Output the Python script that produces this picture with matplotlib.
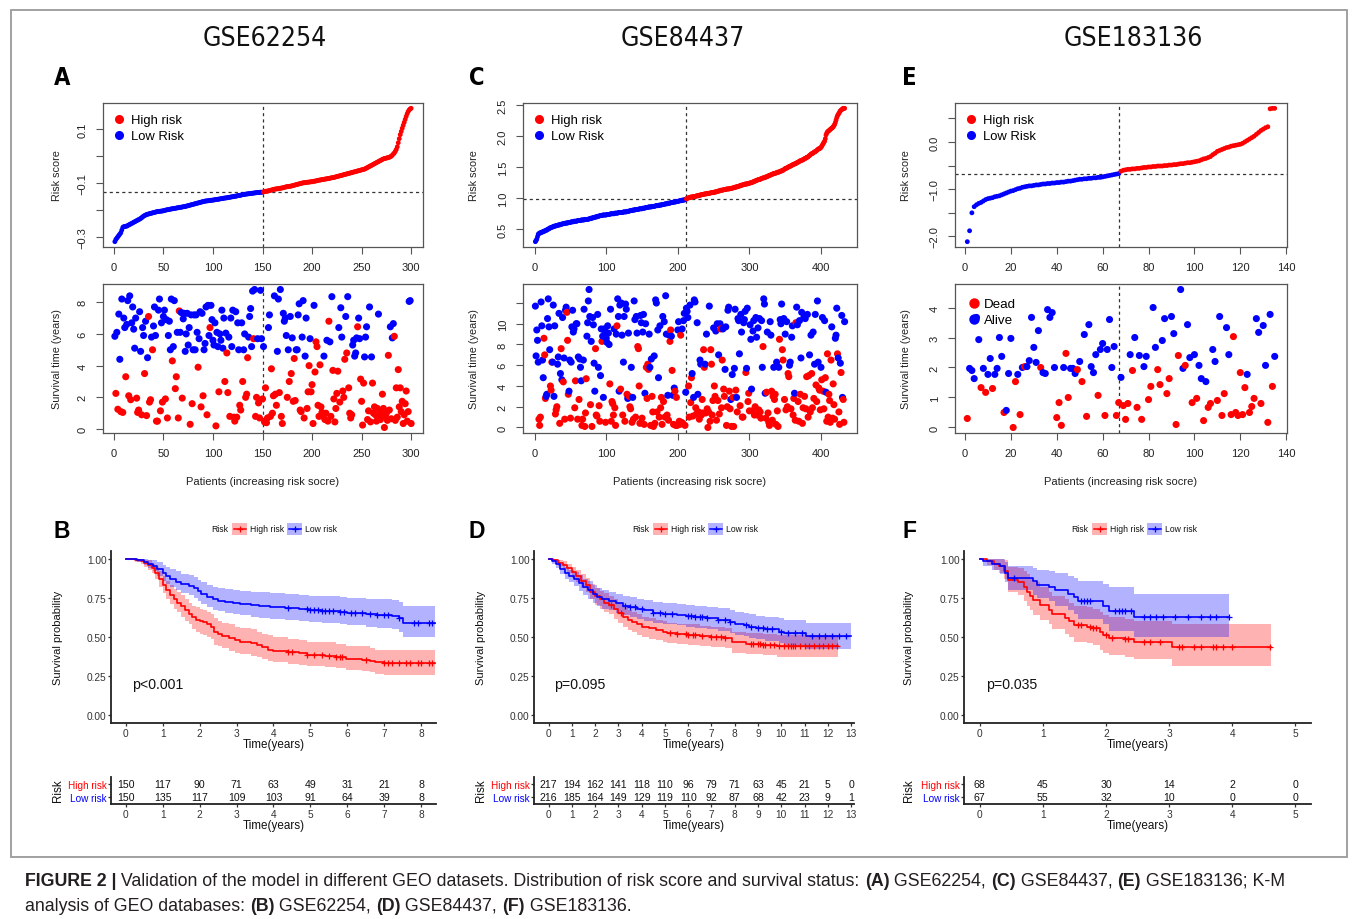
import numpy as np
import matplotlib
matplotlib.use('Agg')
import matplotlib.pyplot as plt
from matplotlib.patches import Rectangle
from matplotlib.lines import Line2D
from matplotlib import font_manager
from matplotlib.font_manager import FontProperties

W, H = 1357, 920
SANS = 'Liberation Sans'
plt.rcParams['font.family'] = [SANS, 'DejaVu Sans']


def condensed_font(bold):
    # pick an installed narrow/condensed face if there is one
    best = None
    for f in font_manager.fontManager.ttflist:
        fn = f.fname.lower()
        if ('narrow' in fn or 'condensed' in fn) and 'semi' not in fn and 'oblique' not in fn and 'italic' not in fn:
            is_bold = 'bold' in fn
            if is_bold == bold:
                if best is None or 'liberation' in fn:
                    best = f.fname
    if best:
        return FontProperties(fname=best)
    return FontProperties(family=SANS, weight='bold' if bold else 'normal')


RED, BLUE = '#FF0000', '#0000FF'

# ---------------- risk scores (sorted, one per patient) ----------------
risk_a = [
    -0.318, -0.310, -0.305, -0.300, -0.295, -0.290, -0.285, -0.275, -0.265, -0.262,
    -0.262, -0.261, -0.260, -0.258, -0.256, -0.254, -0.252, -0.250, -0.248, -0.246,
    -0.244, -0.242, -0.240, -0.238, -0.236, -0.234, -0.232, -0.229, -0.226, -0.223,
    -0.221, -0.219, -0.217, -0.216, -0.215, -0.214, -0.213, -0.212, -0.211, -0.210,
    -0.209, -0.208, -0.207, -0.206, -0.206, -0.205, -0.205, -0.204, -0.204, -0.203,
    -0.202, -0.201, -0.200, -0.199, -0.199, -0.198, -0.197, -0.196, -0.196, -0.195,
    -0.194, -0.194, -0.193, -0.192, -0.192, -0.191, -0.190, -0.190, -0.189, -0.188,
    -0.188, -0.187, -0.186, -0.185, -0.184, -0.183, -0.182, -0.181, -0.180, -0.179,
    -0.178, -0.177, -0.176, -0.175, -0.174, -0.173, -0.172, -0.171, -0.170, -0.169,
    -0.168, -0.167, -0.167, -0.166, -0.166, -0.165, -0.165, -0.164, -0.164, -0.163,
    -0.163, -0.162, -0.161, -0.161, -0.160, -0.160, -0.159, -0.158, -0.158, -0.157,
    -0.156, -0.156, -0.155, -0.155, -0.154, -0.153, -0.153, -0.152, -0.151, -0.151,
    -0.150, -0.149, -0.149, -0.148, -0.147, -0.146, -0.146, -0.145, -0.144, -0.143,
    -0.143, -0.142, -0.141, -0.141, -0.140, -0.140, -0.139, -0.139, -0.138, -0.138,
    -0.137, -0.137, -0.136, -0.136, -0.135, -0.135, -0.135, -0.134, -0.134, -0.134,
    -0.133, -0.132, -0.131, -0.130, -0.130, -0.129, -0.128, -0.127, -0.126, -0.125,
    -0.124, -0.123, -0.122, -0.122, -0.121, -0.121, -0.120, -0.119, -0.119, -0.118,
    -0.117, -0.116, -0.115, -0.114, -0.113, -0.113, -0.112, -0.112, -0.111, -0.110,
    -0.109, -0.108, -0.107, -0.106, -0.105, -0.104, -0.103, -0.102, -0.101, -0.100,
    -0.099, -0.099, -0.098, -0.098, -0.097, -0.097, -0.096, -0.096, -0.095, -0.095,
    -0.094, -0.093, -0.093, -0.092, -0.091, -0.090, -0.089, -0.089, -0.088, -0.087,
    -0.087, -0.086, -0.085, -0.085, -0.084, -0.083, -0.083, -0.082, -0.081, -0.080,
    -0.080, -0.079, -0.078, -0.077, -0.076, -0.075, -0.074, -0.073, -0.072, -0.071,
    -0.070, -0.069, -0.068, -0.067, -0.066, -0.065, -0.064, -0.063, -0.062, -0.061,
    -0.060, -0.059, -0.058, -0.057, -0.056, -0.055, -0.054, -0.053, -0.052, -0.051,
    -0.050, -0.049, -0.048, -0.046, -0.044, -0.042, -0.040, -0.038, -0.036, -0.034,
    -0.032, -0.030, -0.028, -0.026, -0.024, -0.022, -0.020, -0.018, -0.016, -0.014,
    -0.012, -0.010, -0.009, -0.008, -0.007, -0.006, -0.005, -0.004, -0.002, 0.000,
    0.004, 0.008, 0.012, 0.018, 0.025, 0.035, 0.050, 0.065, 0.080, 0.092,
    0.104, 0.115, 0.126, 0.137, 0.148, 0.158, 0.166, 0.172, 0.176, 0.178,
]
risk_c = [
    0.30, 0.32, 0.34, 0.38, 0.42, 0.43, 0.44, 0.44, 0.45, 0.45,
    0.46, 0.46, 0.47, 0.47, 0.48, 0.48, 0.49, 0.50, 0.50, 0.51,
    0.52, 0.52, 0.53, 0.53, 0.54, 0.54, 0.55, 0.55, 0.55, 0.56,
    0.56, 0.56, 0.57, 0.57, 0.57, 0.58, 0.58, 0.58, 0.59, 0.59,
    0.59, 0.59, 0.60, 0.60, 0.60, 0.60, 0.61, 0.61, 0.61, 0.61,
    0.62, 0.62, 0.62, 0.62, 0.63, 0.63, 0.63, 0.63, 0.63, 0.64,
    0.64, 0.64, 0.64, 0.64, 0.65, 0.65, 0.65, 0.65, 0.65, 0.66,
    0.66, 0.66, 0.66, 0.66, 0.66, 0.67, 0.67, 0.67, 0.68, 0.68,
    0.68, 0.69, 0.69, 0.69, 0.70, 0.70, 0.70, 0.71, 0.71, 0.71,
    0.72, 0.72, 0.72, 0.72, 0.73, 0.73, 0.73, 0.73, 0.73, 0.73,
    0.74, 0.74, 0.74, 0.74, 0.74, 0.75, 0.75, 0.75, 0.75, 0.75,
    0.75, 0.76, 0.76, 0.76, 0.76, 0.76, 0.77, 0.77, 0.77, 0.77,
    0.77, 0.77, 0.77, 0.78, 0.78, 0.78, 0.78, 0.78, 0.79, 0.79,
    0.79, 0.79, 0.80, 0.80, 0.80, 0.80, 0.81, 0.81, 0.81, 0.81,
    0.82, 0.82, 0.82, 0.82, 0.82, 0.83, 0.83, 0.83, 0.83, 0.83,
    0.84, 0.84, 0.84, 0.84, 0.85, 0.85, 0.85, 0.85, 0.86, 0.86,
    0.86, 0.86, 0.86, 0.87, 0.87, 0.87, 0.87, 0.87, 0.88, 0.88,
    0.88, 0.88, 0.88, 0.89, 0.89, 0.89, 0.89, 0.90, 0.90, 0.90,
    0.90, 0.91, 0.91, 0.91, 0.91, 0.92, 0.92, 0.92, 0.92, 0.93,
    0.93, 0.93, 0.93, 0.94, 0.94, 0.94, 0.94, 0.95, 0.95, 0.95,
    0.95, 0.96, 0.96, 0.96, 0.96, 0.97, 0.97, 0.97, 0.97, 0.98,
    0.98, 0.99, 1.00, 1.00, 1.01, 1.01, 1.01, 1.02, 1.02, 1.02,
    1.02, 1.03, 1.03, 1.03, 1.03, 1.04, 1.04, 1.04, 1.04, 1.05,
    1.05, 1.05, 1.06, 1.06, 1.06, 1.06, 1.07, 1.07, 1.07, 1.07,
    1.08, 1.08, 1.08, 1.08, 1.08, 1.09, 1.09, 1.09, 1.09, 1.09,
    1.10, 1.10, 1.10, 1.11, 1.11, 1.11, 1.12, 1.12, 1.12, 1.13,
    1.13, 1.13, 1.13, 1.14, 1.14, 1.14, 1.14, 1.15, 1.15, 1.15,
    1.15, 1.15, 1.16, 1.16, 1.16, 1.16, 1.17, 1.17, 1.17, 1.18,
    1.18, 1.18, 1.19, 1.19, 1.19, 1.20, 1.20, 1.21, 1.21, 1.21,
    1.22, 1.22, 1.22, 1.23, 1.23, 1.23, 1.23, 1.24, 1.24, 1.24,
    1.25, 1.25, 1.25, 1.26, 1.26, 1.27, 1.27, 1.28, 1.28, 1.29,
    1.29, 1.30, 1.30, 1.30, 1.31, 1.31, 1.32, 1.32, 1.33, 1.33,
    1.33, 1.34, 1.34, 1.35, 1.35, 1.36, 1.36, 1.37, 1.37, 1.38,
    1.38, 1.39, 1.39, 1.40, 1.40, 1.40, 1.41, 1.41, 1.42, 1.42,
    1.42, 1.43, 1.43, 1.44, 1.44, 1.45, 1.45, 1.46, 1.47, 1.48,
    1.48, 1.49, 1.49, 1.50, 1.51, 1.51, 1.52, 1.52, 1.53, 1.54,
    1.54, 1.55, 1.55, 1.56, 1.56, 1.57, 1.58, 1.58, 1.59, 1.60,
    1.60, 1.61, 1.61, 1.62, 1.62, 1.63, 1.64, 1.64, 1.65, 1.66,
    1.66, 1.67, 1.68, 1.69, 1.70, 1.71, 1.72, 1.72, 1.73, 1.74,
    1.75, 1.75, 1.76, 1.77, 1.78, 1.79, 1.80, 1.80, 1.81, 1.82,
    1.84, 1.86, 1.88, 1.90, 1.92, 1.96, 2.02, 2.05, 2.07, 2.08,
    2.09, 2.10, 2.11, 2.12, 2.13, 2.14, 2.15, 2.17, 2.19, 2.22,
    2.26, 2.30, 2.33, 2.35, 2.37, 2.39, 2.41, 2.42, 2.43, 2.44,
    2.45, 2.45, 2.45,
]
risk_e = [
    -2.11, -1.88, -1.50, -1.37, -1.33, -1.30, -1.28, -1.25, -1.22, -1.20,
    -1.19, -1.18, -1.16, -1.15, -1.14, -1.12, -1.10, -1.08, -1.06, -1.04,
    -1.03, -1.01, -0.99, -0.98, -0.96, -0.95, -0.94, -0.93, -0.93, -0.92,
    -0.91, -0.91, -0.90, -0.89, -0.89, -0.88, -0.88, -0.87, -0.87, -0.86,
    -0.86, -0.85, -0.85, -0.84, -0.83, -0.83, -0.82, -0.81, -0.80, -0.79,
    -0.79, -0.78, -0.78, -0.77, -0.77, -0.76, -0.76, -0.75, -0.75, -0.74,
    -0.73, -0.72, -0.71, -0.70, -0.69, -0.68, -0.67,
    -0.62, -0.60, -0.59,
    -0.58, -0.58, -0.57, -0.57, -0.56, -0.56, -0.55, -0.54, -0.54, -0.53,
    -0.53, -0.52, -0.52, -0.51, -0.51, -0.51, -0.50, -0.50, -0.49, -0.49,
    -0.48, -0.48, -0.47, -0.46, -0.46, -0.45, -0.44, -0.44, -0.43, -0.42,
    -0.41, -0.40, -0.38, -0.36, -0.35, -0.33, -0.31, -0.27, -0.24, -0.20,
    -0.18, -0.16, -0.14, -0.12, -0.11, -0.09, -0.08, -0.07, -0.06, -0.05,
    -0.03, 0.00, 0.03, 0.06, 0.09, 0.12, 0.16, 0.20, 0.24, 0.27,
    0.30, 0.32, 0.70, 0.71, 0.71,
]
low_n_a, low_n_c, low_n_e = 150, 211, 67

# ---------------- survival time per patient: years + d(ead)/a(live) ----------------
surv_a = """
5.85a 2.25d 6.1a 1.25d 7.25a 4.4a 1.1d 8.2a 1.05d 7.0a
6.4a 3.3d 6.6a 8.1a 2.1d 8.4a 1.85d 6.7a 7.7a 6.3a
5.1a 7.0a 1.95d 1.05d 1.2d 7.4a 4.9a 0.9d 6.4a 5.9a
3.5d 6.8a 0.85d 4.5a 7.1d 1.7d 1.85d 5.8a 5.0d 6.5a
7.7a 5.9a 0.5d 0.5d 7.5a 8.2a 1.15d 6.7a 1.7d 7.1a
7.5a 1.9d 6.9a 0.7d 5.9a 6.8a 5.0a 8.2a 4.3d 5.2a
8.1a 2.55d 3.3d 6.1a 0.7d 7.45d 6.1a 7.35a 1.95d 6.95a
7.3a 4.9a 6.0a 7.3a 5.3a 6.4a 0.3d 7.2a 1.6d 5.0a
7.2a 5.0a 7.2a 6.1a 3.9d 5.7a 7.4a 1.4d 7.3a 2.1d
5.0a 5.4a 7.7a 0.9d 7.8a 5.9a 6.4d 7.8a 6.9a 5.6a
5.3a 6.7a 0.2d 6.1a 5.2a 2.35d 6.0a 5.6a 7.5a 5.1a
7.0a 3.0d 6.05a 4.8d 2.3d 5.8a 0.8d 7.0a 5.2a 7.5a
0.75d 0.5d 7.4a 0.75d 6.7a 5.0a 1.5d 1.2d 6.7a 3.0d
5.0a 6.0a 2.0d 2.2d 4.5d 5.8a 7.1a 7.6a 5.2a 8.7a
5.7d 8.8a 0.8d 2.0d 5.7a 1.65d 0.7d 8.75a 5.7a 1.9d
5.2a 0.45d 2.6d 0.4d 0.7d 6.4a 7.2a 0.8d 3.8d 1.0d
2.1d 8.4a 2.2d 1.5d 4.9a 8.2a 2.3d 8.8a 0.8d 0.35d
7.3a 6.8a 7.0a 5.9a 2.0d 5.0a 3.0d 7.1a 3.5d 5.75a
1.75d 4.45d 1.8d 5.0a 5.0a 7.2a 7.9a 1.2d 1.1d 5.8a
8.1a 0.7d 4.6a 7.0a 1.3d 2.35d 4.0d 5.7a 2.35d 2.8d
0.35d 7.8a 3.6d 5.5d 5.2d 1.5d 0.8d 4.05d 1.4d 1.05d
0.8d 4.6a 0.6d 1.0d 5.6a 0.5d 6.8d 5.5a 0.8d 8.35a
3.7d 1.9d 0.45d 1.3d 2.25d 3.65d 6.4a 1.7d 7.65a 5.8a
2.4d 2.0d 4.4d 7.1a 4.8d 8.35a 2.6d 1.0d 0.7d 0.9d
5.3a 5.6a 4.6a 4.8a 5.75a 6.45d 7.0a 5.7a 3.15d 1.75d
0.25d 2.9d 4.55a 5.8a 6.45a 0.6d 1.15d 7.7a 0.45d 4.55a
2.9d 1.0d 1.4d 0.9d 0.5d 1.3d 7.25a 0.7d 0.6d 1.05d
2.2d 1.3d 0.1d 0.8d 1.0d 0.55d 4.65d 1.2d 6.45a 0.65d
5.75a 6.65a 5.85d 0.55d 2.6d 0.75d 3.75d 1.4d 2.6d 1.1d
1.75d 0.35d 0.9d 1.6d 2.4d 0.5d 1.1d 8.05a 8.1a 0.35d
"""
surv_c = """
11.7a 6.9a 9.4a 8.4a 6.3a 0.8d 0.2d 1.0d 12.1a 9.8a 6.5a 4.8a 8.6d 7.0d 2.8d 3.0a 3.2a 10.5a 12.4a 9.7a
7.5a 4.0d 3.6d 6.3d 6.3a 11.8a 3.0a 9.8a 1.3d 1.7d 2.0d 6.1a 6.8a 11.0a 0.4d 5.2a 7.6d 4.6a 10.6a 4.4d
6.7a 0.8d 11.3a 11.6a 11.1d 8.4d 3.2d 3.5a 6.5a 0.9d 6.3a 9.7a 11.3a 9.2a 9.5a 1.9d 4.5d 10.0a 10.0a 0.8d
6.8a 2.7d 6.6a 5.8a 4.5a 0.2d 0.8d 6.5a 11.4a 0.1d 1.4d 4.7d 8.8a 10.1a 12.2a 13.3a 10.7a 2.2d 8.3a 0.1d
10.6a 9.9a 6.2a 3.5a 7.6d 1.2d 1.1d 10.9a 5.8a 2.1d 0.6d 5.0a 9.5a 8.3d 8.8a 2.9a 9.5a 9.3a 0.5d 8.6a
8.2a 9.8a 9.1a 8.0a 4.2d 11.4a 0.6d 2.5d 2.3d 1.2d 9.5a 1.9d 0.2d 9.0a 9.8d 12.4a 10.7a 3.5a 11.8a 3.7d
12.0a 8.9a 1.2d 6.3a 10.7a 0.6d 11.9a 11.4a 3.2d 2.8a 9.1a 3.0d 2.0d 1.8d 5.8a 0.5d 2.9a 0.8d 12.2a 10.4a
1.0d 10.7a 9.1a 7.8d 7.6d 4.0d 0.4d 10.8a 10.1a 0.9d 9.2a 10.9a 0.3d 3.3a 10.0a 5.8d 2.8d 6.1d 5.6d 9.0a
5.8a 0.2d 6.6a 3.0d 1.5d 0.1d 6.9a 0.4d 12.3a 12.0a 1.5d 9.4a 4.8a 1.0d 9.8a 1.9d 2.9d 0.3d 10.7a 2.5d
10.2a 1.0d 12.7a 9.0a 1.2d 3.1a 0.7d 8.9a 8.3d 9.4d 8.8a 5.5d 3.1a 0.3d 3.8a 3.5d 0.2d 2.9d 0.2d 9.4a
10.2a 0.6d 0.3d 8.9d 0.5d 9.5a 0.4d 10.3a 11.0a 0.2d 3.4a
11.5a 11.2a 10.6a 4.0d 1.0d 11.8a 2.4d 4.8d 5.2a 1.1d 2.9a 12.3a 12.1a 1.9d 1.3d 10.1a 3.2a 1.5d 0.8d
6.5a 6.1a 1.2d 2.7d 1.4d 7.5d 5.8d 6.1a 1.4d 9.0a 1.8d 0.0d 1.5d 11.7a 0.6d 7.5d 6.1d 1.2d 2.6d 9.6a
4.0d 3.0d 9.3a 0.7d 10.0a 2.6d 7.0a 1.3d 10.0a 9.5d 1.9d 6.5d 9.5a 3.7d 3.0d 5.6a 9.7a 0.2d 2.0d 11.3a
11.6a 3.5d 1.8d 2.7a 0.1d 5.1a 2.9d 0.1d 5.7a 11.4a 3.6d 2.9a 1.5d 10.5a 10.3a 7.1a 2.1d 10.9a 9.2a 1.0d
1.0d 10.1a 10.4a 11.2a 5.3d 5.7a 11.5a 2.5d 3.3d 1.6d 9.9a 8.5a 3.7a 1.6d 9.3a 10.3a 1.2d 2.0d 10.6a 8.7a
1.2d 9.6a 1.7d 10.5a 1.5d 0.9d 10.3a 5.8a 7.8d 12.4a 11.9a 3.3a 0.9d 3.4d 9.2a 1.4d 0.5d 0.2d 10.2a 8.9a
3.5d 0.7d 3.0d 5.8a 2.7d 3.2d 0.3d 6.3a 1.6d 0.1d 5.8a 8.5d 10.4a 10.0a 11.9a 7.5d 6.5d 10.5a 2.7d 9.0a
1.7d 10.2a 2.0d 5.2d 4.9d 6.0a 6.3a 1.8d 8.7a 9.8a 1.2d 2.8d 3.3a 0.7d 10.1d 11.6a 9.9a 2.5d 0.6d 10.3a
3.2d 6.7a 11.1a 0.4d 1.9d 10.6a 3.0d 10.5a 1.8d 4.9d 10.9a 1.0d 5.0d 7.0a 1.5d 8.9a 5.2d 1.9d 9.2a 2.8d
6.1a 10.9a 4.1d 2.5d 12.2a 6.3a 3.8d 3.6d 1.7d 5.8a 4.6d 10.6a 3.5d 1.8d 10.3a 4.8d 3.4a 0.6d 7.1d 1.0d
3.2d 2.6d 0.5d 6.5d 9.7a 0.9d 4.2d 2.2d 0.8d 8.6a 8.9a 11.5a 7.1d 6.7a 1.5d 0.3d 6.2a 5.3d 10.8a 2.9a
2.7d 0.5d 10.2a
"""
surv_e = """
0.3d 1.97a 1.9a 1.63a 3.67a 2.93a 1.33d 1.97a 1.17d 1.77a
2.3a 1.3d 1.77a 1.97a 3.0a 2.37a 0.5d 0.57a 1.8a 2.97a
0.0d 1.53d 1.77a 0.43d 2.0a 2.03d 2.03a 2.23a 3.67a 2.67a
2.17a 3.23a 2.0d 1.83a 1.8a 3.93a 3.67a 3.83a 2.0a 0.33d
0.83d 0.07d 2.0a 2.47d 1.0d 1.97a 1.97a 1.8a 1.93d 2.2a
1.53d 3.1a 0.37d 3.43a 2.03a 1.83a 2.43a 1.07d 2.6a 2.8a
0.4d 2.6a 3.6a 2.0a 2.7a 0.4d 0.83d 1.67a 0.73d 0.27d
0.8d 2.43a 1.9d 3.0a 0.67d 2.4a 0.27d 2.03a 2.37a 0.93d
1.37d 4.0a 2.67a 1.93d 1.43d 2.9a 3.63a 1.13d 1.63d 3.7a
3.13a 0.1d 2.4d 4.6a 1.97a 2.07d 3.43a 2.33a 0.83d 2.43a
0.97d 2.07a 1.63a 0.23d 1.53a 0.67d 0.8d 2.6a 2.2a 0.9d
3.7a 0.4d 1.13d 3.33a 2.43a 0.43d 3.03d 0.5d 0.4d 1.83d
0.43d 1.33d 1.77a 0.5d 0.7d 0.97d 3.63a 3.17a 0.8d 3.4a
2.07a 0.17d 3.77a 1.37d 2.37a
"""

# ---------------- Kaplan-Meier curves: step times, survival, 95% CI ----------------
km_b_high_t = [0, 0.25, 0.4, 0.5, 0.6, 0.7, 0.8, 0.9, 1.0, 1.1, 1.2, 1.3, 1.4, 1.5, 1.6, 1.7, 1.8, 1.9, 2.0, 2.1,
               2.2, 2.3, 2.4, 2.5, 2.6, 2.8, 2.95, 3.1, 3.4, 3.55, 3.7, 3.85, 4.0, 4.4, 4.7, 4.9, 5.4, 5.7, 5.95, 6.4,
               6.6, 6.75, 7.0]
km_b_high_s = [1.0, 0.993, 0.987, 0.973, 0.96, 0.94, 0.91, 0.87, 0.83, 0.80, 0.77, 0.74, 0.72, 0.70, 0.67, 0.65, 0.63,
               0.61, 0.60, 0.593, 0.58, 0.567, 0.533, 0.52, 0.507, 0.493, 0.48, 0.467, 0.46, 0.447, 0.433, 0.42, 0.413,
               0.405, 0.395, 0.388, 0.38, 0.373, 0.36, 0.355, 0.348, 0.34, 0.335]
km_b_high_lo = [1.0, 0.98, 0.97, 0.95, 0.93, 0.91, 0.87, 0.82, 0.78, 0.74, 0.71, 0.68, 0.66, 0.63, 0.60, 0.58, 0.55, 0.53,
                0.52, 0.51, 0.50, 0.49, 0.45, 0.44, 0.43, 0.41, 0.40, 0.39, 0.38, 0.37, 0.36, 0.345, 0.34, 0.33, 0.32,
                0.315, 0.31, 0.30, 0.29, 0.285, 0.275, 0.265, 0.26]
km_b_high_hi = [1.0, 1.0, 1.0, 0.99, 0.99, 0.97, 0.95, 0.92, 0.89, 0.86, 0.83, 0.81, 0.79, 0.77, 0.74, 0.72, 0.70, 0.69,
                0.68, 0.67, 0.66, 0.65, 0.62, 0.60, 0.59, 0.58, 0.565, 0.555, 0.55, 0.535, 0.52, 0.51, 0.50, 0.49, 0.48,
                0.47, 0.465, 0.455, 0.445, 0.44, 0.43, 0.42, 0.42]
km_b_high_cens = [4.4, 4.5, 4.9, 5.1, 5.3, 5.5, 5.7, 5.8, 5.85, 6.5, 7.0, 7.1, 7.2, 7.4, 7.6, 7.7, 7.9, 8.0, 8.2, 8.3]
km_b_low_t = [0, 0.3, 0.5, 0.6, 0.75, 0.85, 1.0, 1.1, 1.2, 1.35, 1.5, 1.7, 1.85, 1.95, 2.05, 2.2, 2.35, 2.5, 2.7, 2.9,
              3.1, 3.4, 3.6, 3.9, 4.3, 4.7, 4.95, 5.3, 5.8, 6.0, 6.5, 6.8, 7.2, 7.4, 7.5]
km_b_low_s = [1.0, 0.993, 0.98, 0.967, 0.953, 0.933, 0.907, 0.893, 0.873, 0.853, 0.84, 0.827, 0.813, 0.793, 0.773, 0.753,
              0.74, 0.733, 0.727, 0.72, 0.713, 0.707, 0.70, 0.693, 0.687, 0.68, 0.673, 0.667, 0.66, 0.653, 0.647, 0.64,
              0.633, 0.62, 0.59]
km_b_low_lo = [1.0, 0.98, 0.96, 0.94, 0.92, 0.89, 0.86, 0.84, 0.82, 0.80, 0.78, 0.77, 0.75, 0.73, 0.71, 0.69, 0.675,
               0.665, 0.655, 0.645, 0.64, 0.63, 0.62, 0.615, 0.61, 0.60, 0.595, 0.59, 0.58, 0.575, 0.565, 0.56, 0.55,
               0.535, 0.50]
km_b_low_hi = [1.0, 1.0, 1.0, 0.995, 0.99, 0.98, 0.96, 0.95, 0.935, 0.92, 0.905, 0.895, 0.885, 0.865, 0.85, 0.835, 0.82,
               0.815, 0.81, 0.80, 0.795, 0.79, 0.785, 0.78, 0.775, 0.77, 0.765, 0.76, 0.755, 0.75, 0.745, 0.74, 0.735,
               0.725, 0.70]
km_b_low_cens = [4.4, 4.9, 5.0, 5.1, 5.2, 5.3, 5.4, 5.5, 5.6, 5.8, 5.9, 6.1, 6.2, 6.4, 6.6, 6.8, 7.0, 7.1, 7.4, 7.8, 7.9,
                 8.2, 8.3]
km_b_end = [8.38, 8.38]

km_d_high_t = [0, 0.2, 0.4, 0.6, 0.8, 1.0, 1.2, 1.4, 1.6, 1.8, 2.0, 2.2, 2.4, 2.6, 2.8, 3.0, 3.2, 3.4, 3.6, 3.8,
               4.0, 4.3, 4.6, 4.9, 5.1, 5.5, 6.0, 6.5, 7.0, 7.6, 7.9, 8.5, 9.2, 9.8, 10.2]
km_d_high_s = [1.0, 0.99, 0.975, 0.96, 0.94, 0.915, 0.89, 0.86, 0.83, 0.79, 0.76, 0.74, 0.72, 0.705, 0.68, 0.655, 0.63,
               0.61, 0.595, 0.58, 0.565, 0.555, 0.545, 0.535, 0.525, 0.52, 0.515, 0.505, 0.50, 0.495, 0.465, 0.458,
               0.452, 0.445, 0.44]
km_d_high_lo = [1.0, 0.98, 0.955, 0.935, 0.91, 0.88, 0.85, 0.815, 0.785, 0.74, 0.705, 0.68, 0.66, 0.645, 0.615, 0.59,
                0.565, 0.545, 0.53, 0.515, 0.50, 0.49, 0.48, 0.47, 0.46, 0.455, 0.45, 0.44, 0.435, 0.43, 0.40, 0.39,
                0.385, 0.375, 0.37]
km_d_high_hi = [1.0, 1.0, 0.995, 0.985, 0.97, 0.95, 0.93, 0.905, 0.875, 0.84, 0.815, 0.795, 0.78, 0.765, 0.745, 0.72,
                0.695, 0.675, 0.66, 0.645, 0.63, 0.62, 0.61, 0.60, 0.59, 0.585, 0.58, 0.57, 0.565, 0.56, 0.53, 0.525,
                0.52, 0.515, 0.51]
km_d_high_cens = [2.7, 3.1, 5.2, 5.5, 5.9, 6.0, 6.2, 6.3, 6.6, 7.0, 7.2, 7.4, 7.6, 8.7, 8.8, 9.0, 9.1, 9.2, 9.3, 9.5,
                  9.7, 9.9, 10.1, 10.3, 10.4, 10.5, 10.6, 10.8, 11.0, 11.2, 11.4, 11.6, 11.8, 12.0, 12.2, 12.4]
km_d_low_t = [0, 0.15, 0.3, 0.5, 0.7, 0.9, 1.1, 1.3, 1.5, 1.7, 1.9, 2.1, 2.3, 2.6, 2.9, 3.2, 3.5, 3.8, 4.1, 4.5,
              4.9, 5.5, 5.9, 6.3, 6.8, 7.3, 7.8, 8.0, 8.4, 8.6, 8.9, 9.3, 9.9, 10.1, 11.05]
km_d_low_s = [1.0, 0.985, 0.965, 0.935, 0.91, 0.89, 0.87, 0.845, 0.82, 0.80, 0.775, 0.755, 0.74, 0.73, 0.715, 0.70, 0.69,
              0.68, 0.67, 0.655, 0.645, 0.64, 0.632, 0.625, 0.62, 0.61, 0.595, 0.585, 0.575, 0.565, 0.555, 0.548, 0.535,
              0.525, 0.505]
km_d_low_lo = [1.0, 0.97, 0.94, 0.90, 0.87, 0.85, 0.825, 0.795, 0.77, 0.745, 0.72, 0.70, 0.68, 0.67, 0.655, 0.64, 0.625,
               0.615, 0.605, 0.59, 0.58, 0.575, 0.565, 0.555, 0.55, 0.54, 0.525, 0.515, 0.505, 0.495, 0.485, 0.475, 0.46,
               0.45, 0.425]
km_d_low_hi = [1.0, 1.0, 0.99, 0.965, 0.945, 0.93, 0.915, 0.895, 0.87, 0.855, 0.835, 0.815, 0.80, 0.79, 0.775, 0.765,
               0.755, 0.745, 0.735, 0.725, 0.715, 0.71, 0.705, 0.70, 0.695, 0.685, 0.67, 0.66, 0.655, 0.645, 0.635, 0.63,
               0.62, 0.61, 0.59]
km_d_low_cens = [3.3, 3.5, 3.7, 4.0, 4.5, 4.8, 5.0, 5.3, 6.0, 6.1, 6.3, 6.5, 6.6, 6.8, 7.3, 7.6, 7.8, 8.5, 8.7, 9.0, 9.2,
                 9.4, 9.6, 10.0, 10.3, 10.6, 10.9, 11.3, 11.6, 11.9, 12.2, 12.5, 12.8]
km_d_end = [12.45, 13.0]

km_f_high_t = [0, 0.12, 0.22, 0.3, 0.38, 0.45, 0.6, 0.7, 0.75, 0.8, 0.85, 0.95, 1.1, 1.15, 1.35, 1.42, 1.5, 1.7, 1.8,
               1.9, 1.95, 2.05, 2.3, 2.45, 3.05]
km_f_high_s = [1.0, 0.985, 0.97, 0.955, 0.925, 0.865, 0.85, 0.82, 0.79, 0.76, 0.735, 0.705, 0.675, 0.645, 0.62, 0.60,
               0.575, 0.565, 0.555, 0.53, 0.51, 0.495, 0.485, 0.47, 0.435]
km_f_high_lo = [1.0, 0.96, 0.93, 0.91, 0.87, 0.79, 0.77, 0.73, 0.70, 0.67, 0.64, 0.61, 0.58, 0.55, 0.52, 0.50, 0.47,
                0.46, 0.45, 0.42, 0.40, 0.385, 0.375, 0.36, 0.315]
km_f_high_hi = [1.0, 1.0, 1.0, 1.0, 0.99, 0.95, 0.94, 0.92, 0.90, 0.87, 0.85, 0.82, 0.79, 0.76, 0.74, 0.72, 0.70, 0.69,
                0.68, 0.66, 0.64, 0.625, 0.615, 0.60, 0.585]
km_f_high_cens = [1.55, 1.6, 1.75, 1.8, 1.85, 2.0, 2.1, 2.3, 2.35, 2.6, 2.7, 2.85, 3.15, 3.2, 3.4, 3.5, 3.7, 3.75, 3.85,
                  4.0, 4.6]
km_f_low_t = [0, 0.05, 0.2, 0.32, 0.4, 0.45, 0.85, 0.9, 1.1, 1.2, 1.4, 1.5, 1.55, 1.95, 2.05, 2.45]
km_f_low_s = [1.0, 0.985, 0.97, 0.955, 0.91, 0.875, 0.855, 0.835, 0.82, 0.80, 0.775, 0.755, 0.73, 0.70, 0.665, 0.63]
km_f_low_lo = [1.0, 0.955, 0.93, 0.90, 0.85, 0.80, 0.77, 0.75, 0.73, 0.70, 0.67, 0.645, 0.615, 0.58, 0.54, 0.50]
km_f_low_hi = [1.0, 1.0, 1.0, 1.0, 0.98, 0.955, 0.94, 0.93, 0.92, 0.91, 0.89, 0.875, 0.86, 0.84, 0.82, 0.775]
km_f_low_cens = [0.55, 1.6, 1.65, 1.7, 1.75, 2.15, 2.2, 2.25, 2.3, 2.4, 2.6, 2.7, 2.8, 2.9, 3.1, 3.3, 3.5, 3.65, 3.75,
                 3.95]
km_f_end = [4.62, 3.95]

# ---------------- numbers at risk ----------------
risk_times_b = list(range(0, 9))
at_risk_b_high = [150, 117, 90, 71, 63, 49, 31, 21, 8]
at_risk_b_low = [150, 135, 117, 109, 103, 91, 64, 39, 8]
risk_times_d = list(range(0, 14))
at_risk_d_high = [217, 194, 162, 141, 118, 110, 96, 79, 71, 63, 45, 21, 5, 0]
at_risk_d_low = [216, 185, 164, 149, 129, 119, 110, 92, 87, 68, 42, 23, 9, 1]
risk_times_f = list(range(0, 6))
at_risk_f_high = [68, 45, 30, 14, 2, 0]
at_risk_f_low = [67, 55, 32, 10, 0, 0]

p_values = ['p<0.001', 'p=0.095', 'p=0.035']
titles = ['GSE62254', 'GSE84437', 'GSE183136']


def parse_surv(s):
    toks = s.split()
    return np.array([float(x[:-1]) for x in toks]), np.array([x[-1] == 'd' for x in toks])


fig = plt.figure(figsize=(W / 100, H / 100), dpi=100)


def px_axes(x0, y0, x1, y1):
    return fig.add_axes([x0 / W, 1 - y1 / H, (x1 - x0) / W, (y1 - y0) / H])


def r_lim(v):
    lo, hi = float(np.min(v)), float(np.max(v))
    e = 0.04 * (hi - lo)
    return lo - e, hi + e


def r_axes(ax, xticks, yticks, ylabels):
    for sp in ax.spines.values():
        sp.set_color('#555555')
        sp.set_linewidth(0.9)
    ax.tick_params(direction='out', length=5, width=0.8, colors='#555555', labelcolor='#222222',
                   labelsize=8, pad=6)
    ax.set_xticks(xticks)
    ax.set_yticks(yticks)
    ax.set_yticklabels(ylabels, rotation=90, va='center')


def risk_panel(box, risk, n_low, xticks, yticks, ylabels):
    ax = px_axes(*box)
    r = np.array(risk)
    x = np.arange(1, len(r) + 1)
    ax.scatter(x, r, s=12, c=np.where(x <= n_low, BLUE, RED), lw=0, zorder=3)
    ax.axvline(n_low, ls=(0, (2.5, 2.5)), color='#333333', lw=0.9, zorder=2)
    ax.axhline(r[n_low - 1], ls=(0, (2.5, 2.5)), color='#333333', lw=0.9, zorder=2)
    ax.set_xlim(r_lim(x))
    ax.set_ylim(r_lim(r))
    r_axes(ax, xticks, yticks, ylabels)
    hs = [Line2D([], [], ls='', marker='o', ms=5.5, color=RED), Line2D([], [], ls='', marker='o', ms=5.5, color=BLUE)]
    ax.legend(hs, ['High risk', 'Low Risk'], loc='upper left', frameon=False, fontsize=9.4,
              handlelength=0.8, handletextpad=0.5, labelspacing=0.3, borderaxespad=0.3, borderpad=0.55)
    return ax


def surv_panel(box, surv, xlim, xticks, yticks, ylabels, n_low, legend=False):
    ax = px_axes(*box)
    t, dead = parse_surv(surv)
    x = np.arange(1, len(t) + 1)
    ax.scatter(x, t, s=26, c=np.where(dead, RED, BLUE), lw=0, zorder=3)
    ax.axvline(n_low, ls=(0, (2.5, 2.5)), color='#333333', lw=0.9, zorder=2)
    ax.set_xlim(xlim)
    ax.set_ylim(r_lim(t))
    r_axes(ax, xticks, yticks, ylabels)
    if legend:
        hs = [Line2D([], [], ls='', marker='o', ms=6.5, color=RED),
              Line2D([], [], ls='', marker='o', ms=6.5, color=BLUE)]
        ax.legend(hs, ['Dead', 'Alive'], loc='upper left', frameon=False, fontsize=9.6,
                  handlelength=0.8, handletextpad=0.35, labelspacing=0.28, borderaxespad=0.3, borderpad=0.75)
    return ax


def gg_axes(ax, xlim, xticks):
    for k in ('top', 'right'):
        ax.spines[k].set_visible(False)
    for k in ('left', 'bottom'):
        ax.spines[k].set_color('#222222')
        ax.spines[k].set_linewidth(1.3)
    ax.tick_params(direction='out', length=2.5, width=0.9, colors='#333333', labelcolor='#333333',
                   labelsize=7.3, pad=0.8)
    ax.set_xlim(xlim)
    ax.set_xticks(xticks)


def km_panel(box, xlim, xticks, curves, pval, pval_x):
    ax = px_axes(*box)
    for t, s, lo, hi, end, cens, col in curves:
        tt = np.append(t, end)
        ax.fill_between(tt, np.append(lo, lo[-1]), np.append(hi, hi[-1]), step='post', color=col, alpha=0.3,
                        lw=0, zorder=1)
    for t, s, lo, hi, end, cens, col in curves:
        tt = np.append(t, end)
        ss = np.append(s, s[-1])
        ax.step(tt, ss, where='post', color=col, lw=1.2, zorder=3)
        idx = np.searchsorted(t, cens, side='right') - 1
        ax.plot(cens, np.array(s)[idx], ls='', marker='+', ms=4.5, mew=0.9, color=col, zorder=4)
    gg_axes(ax, xlim, xticks)
    ax.set_ylim(-0.05, 1.05)
    ax.set_yticks([0, 0.25, 0.5, 0.75, 1.0])
    ax.set_yticklabels(['0.00', '0.25', '0.50', '0.75', '1.00'])
    ax.text(pval_x, 0.2, pval, fontsize=10.2, va='center', ha='left', color='#111111')
    return ax


def table_panel(box, xlim, times, high, low):
    ax = px_axes(*box)
    gg_axes(ax, xlim, times)
    ax.set_ylim(0, 1)
    for tm, a, b in zip(times, high, low):
        ax.text(tm, 0.74, str(a), ha='center', va='center', fontsize=7.6, color='#111111')
        ax.text(tm, 0.26, str(b), ha='center', va='center', fontsize=7.6, color='#111111')
    ax.set_yticks([0.26, 0.74])
    ax.set_yticklabels(['Low risk', 'High risk'], fontsize=7.2)
    for lab, col in zip(ax.get_yticklabels(), [BLUE, RED]):
        lab.set_color(col)
    return ax


# ---------- top rows: risk score and survival status (R base style) ----------
cols = [
    dict(x0=103, x1=423, risk=risk_a, n_low=low_n_a, surv=surv_a,
         xt=list(range(0, 301, 50)), yt=[-0.3, -0.2, -0.1, 0.0, 0.1], yl=['\u22120.3', '', '\u22120.1', '', '0.1'],
         syt=[0, 2, 4, 6, 8], syl=['0', '2', '4', '6', '8']),
    dict(x0=523, x1=857, risk=risk_c, n_low=low_n_c, surv=surv_c,
         xt=list(range(0, 401, 100)), yt=[0.5, 1.0, 1.5, 2.0, 2.5], yl=['0.5', '1.0', '1.5', '2.0', '2.5'],
         syt=[0, 2, 4, 6, 8, 10, 12], syl=['0', '2', '4', '6', '8', '10', '']),
    dict(x0=955, x1=1287, risk=risk_e, n_low=low_n_e, surv=surv_e,
         xt=list(range(0, 141, 20)), yt=[-2.0, -1.5, -1.0, -0.5, 0.0, 0.5],
         yl=['\u22122.0', '', '\u22121.0', '', '0.0', ''],
         syt=[0, 1, 2, 3, 4], syl=['0', '1', '2', '3', '4']),
]
for i, c in enumerate(cols):
    ax1 = risk_panel((c['x0'], 104, c['x1'], 248), c['risk'], c['n_low'], c['xt'], c['yt'], c['yl'])
    surv_panel((c['x0'], 285, c['x1'], 434), c['surv'], ax1.get_xlim(), c['xt'], c['syt'], c['syl'],
               c['n_low'], legend=(i == 2))

# ---------- bottom rows: Kaplan-Meier (survminer style) ----------
km_specs = [
    (111, 436, (-0.4, 8.4), list(range(0, 9)),
     [(km_b_high_t, km_b_high_s, km_b_high_lo, km_b_high_hi, km_b_end[0], km_b_high_cens, RED),
      (km_b_low_t, km_b_low_s, km_b_low_lo, km_b_low_hi, km_b_end[1], km_b_low_cens, BLUE)],
     risk_times_b, at_risk_b_high, at_risk_b_low, km_b_end[0] / 50),
    (534, 854, (-0.625, 13.125), list(range(0, 14)),
     [(km_d_high_t, km_d_high_s, km_d_high_lo, km_d_high_hi, km_d_end[0], km_d_high_cens, RED),
      (km_d_low_t, km_d_low_s, km_d_low_lo, km_d_low_hi, km_d_end[1], km_d_low_cens, BLUE)],
     risk_times_d, at_risk_d_high, at_risk_d_low, km_d_end[0] / 50),
    (964, 1311, (-0.25, 5.25), list(range(0, 6)),
     [(km_f_high_t, km_f_high_s, km_f_high_lo, km_f_high_hi, km_f_end[0], km_f_high_cens, RED),
      (km_f_low_t, km_f_low_s, km_f_low_lo, km_f_low_hi, km_f_end[1], km_f_low_cens, BLUE)],
     risk_times_f, at_risk_f_high, at_risk_f_low, km_f_end[0] / 50),
]
for i, (x0, x1, xlim, xt, curves, rt, hi_r, lo_r, px) in enumerate(km_specs):
    km_panel((x0, 552, x1, 724), xlim, xt, curves, p_values[i], px)
    table_panel((x0, 778, x1, 805), xlim, rt, hi_r, lo_r)

# ---------- overlay in pixel coordinates: labels, legends, frame, caption ----------
ov = fig.add_axes([0, 0, 1, 1])
ov.set_xlim(0, W)
ov.set_ylim(H, 0)
ov.set_autoscale_on(False)
ov.axis('off')

ov.add_patch(Rectangle((10.5, 11), 1336, 847, fill=False, ec='#9a9a9a', lw=1.3))

fp_title = condensed_font(False)
fp_title.set_size(19)
fp_letter = condensed_font(True)
fp_letter.set_size(17)
for tx, tt in zip([265, 683, 1133], titles):
    ov.text(tx, 39, tt, fontproperties=fp_title, ha='center', va='center', color='#111111')
for lx, lt in zip([62, 477, 909], 'ACE'):
    ov.text(lx, 78, lt, fontproperties=fp_letter, ha='center', va='center', color='#000000')
for lx, lt in zip([62, 477, 909], 'BDF'):
    ov.text(lx, 532, lt, fontsize=16.5, fontweight='bold', ha='center', va='center')

for c, ylx in zip(cols, [57, 474, 906]):
    cx = (c['x0'] + c['x1']) / 2
    ov.text(ylx, 176, 'Risk score', rotation=90, fontsize=7.8, ha='center', va='center', color='#222222')
    ov.text(ylx, 359, 'Survival time (years)', rotation=90, fontsize=7.8, ha='center', va='center', color='#222222')
    ov.text(cx, 482, 'Patients (increasing risk socre)', fontsize=8, ha='center', va='center', color='#222222')

for (x0, x1, *_), ylx in zip(km_specs, [58, 481, 909]):
    cx = (x0 + x1) / 2
    ov.text(ylx, 638, 'Survival probability', rotation=90, fontsize=8, ha='center', va='center', color='#111111')
    ov.text(cx, 745.5, 'Time(years)', fontsize=8.4, ha='center', va='center', color='#111111')
    ov.text(ylx, 791, 'Risk', rotation=90, fontsize=8.4, ha='center', va='center', color='#111111')
    ov.text(cx, 826.5, 'Time(years)', fontsize=8.4, ha='center', va='center', color='#111111')


def km_legend(x, y):
    ov.text(x, y, 'Risk', fontsize=6.2, ha='left', va='center', color='#111111')
    for dx, col, lab in [(21, RED, 'High risk'), (76, BLUE, 'Low risk')]:
        ov.add_patch(Rectangle((x + dx, y - 6), 15, 12, fc=col, alpha=0.3, ec='none'))
        ov.plot([x + dx + 1.5, x + dx + 13.5], [y, y], color=col, lw=1.1)
        ov.plot([x + dx + 7.5], [y], ls='', marker='+', ms=4.5, mew=0.9, color=col)
        ov.text(x + dx + 18, y, lab, fontsize=6.2, ha='left', va='center', color='#111111')


for lx in [211, 632, 1071]:
    km_legend(lx, 530)

# caption with bold fragments
renderer = fig.canvas.get_renderer()
line1 = [('FIGURE 2 |', True), (' Validation of the model in different GEO datasets. Distribution of risk score and '
                                 'survival status: ', False), ('(A)', True), (' GSE62254, ', False), ('(C)', True),
         (' GSE84437, ', False), ('(E)', True), (' GSE183136; K-M', False)]
line2 = [('analysis of GEO databases: ', False), ('(B)', True), (' GSE62254, ', False), ('(D)', True),
         (' GSE84437, ', False), ('(F)', True), (' GSE183136.', False)]


def rich_line(x, y, parts, size, draw=True):
    x_start = x
    for txt, bold in parts:
        t = ov.text(x, y, txt, fontsize=size, fontweight='bold' if bold else 'normal', ha='left', va='baseline',
                    color='#231F20')
        x += t.get_window_extent(renderer).width
        if not draw:
            t.remove()
    return x - x_start


w = rich_line(25, 886, line1, 11, draw=False)
cap_size = 11 * 1256 / w
rich_line(25, 886, line1, cap_size)
rich_line(25, 911, line2, cap_size)

fig.savefig('out.png', dpi=100)
